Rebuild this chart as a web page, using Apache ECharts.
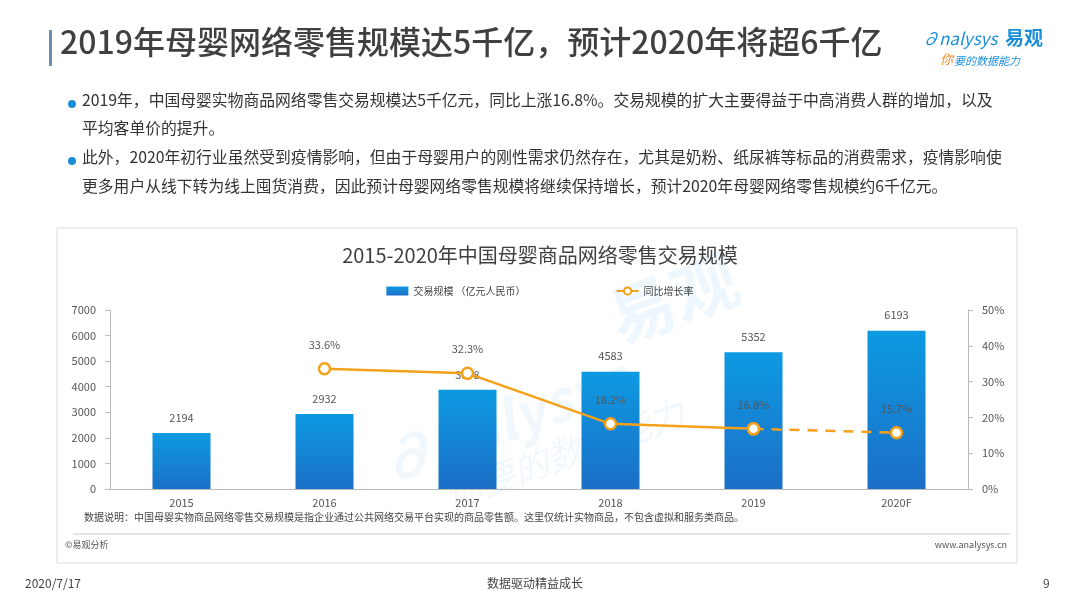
<!DOCTYPE html>
<html><head><meta charset="utf-8">
<script src="https://cdn.jsdelivr.net/npm/echarts@6/dist/echarts.min.js"></script>
<style>html,body{margin:0;padding:0;background:#fff}#c{width:1080px;height:608px}</style>
</head><body><div id="c"></div>
<script>
const categories = ['2015','2016','2017','2018','2019','2020F'];
const scaleValues = [2194, 2932, 3878, 4583, 5352, 6193];
const growthActual = [null, 33.6, 32.3, 18.2, 16.8, null];
const growthForecast = [null, null, null, null, 16.8, 15.7];
const leftTicks = [0, 7000, 1000];
const rightTicks = [0, 50, 10];

const FONT = '"Noto Sans CJK SC", "Noto Sans", sans-serif';
const chart = echarts.init(document.getElementById('c'));

const bullets = [
  '2019年，中国母婴实物商品网络零售交易规模达5千亿元，同比上涨16.8%。交易规模的扩大主要得益于中高消费人群的增加，以及',
  '平均客单价的提升。',
  '此外，2020年初行业虽然受到疫情影响，但由于母婴用户的刚性需求仍然存在，尤其是奶粉、纸尿裤等标品的消费需求，疫情影响使',
  '更多用户从线下转为线上囤货消费，因此预计母婴网络零售规模将继续保持增长，预计2020年母婴网络零售规模约6千亿元。'
];
const bulletY = [103, 131, 160, 189];
const bulletDot = [true, false, true, false];

const graphics = [
  {type:'rect', shape:{x:49, y:30, width:3, height:36}, style:{fill:'#6f8fb0'}},
  {type:'text', left:60, top:26, style:{text:'2019年母婴网络零售规模达5千亿，预计2020年将超6千亿', font:'500 32px '+FONT, fill:'#404040'}},
  {type:'text', left:922, top:30, style:{text:'∂nalysys', font:'italic 17px '+FONT, fill:'#1a8fd8'}},
  {type:'text', left:1005, top:28, style:{text:'易观', font:'bold 19px '+FONT, fill:'#1a8fd8'}},
  {type:'text', left:940, top:53, style:{text:'你', font:'italic 13px '+FONT, fill:'#f08a24'}},
  {type:'text', left:954, top:55, style:{text:'要的数据能力', font:'italic 11px '+FONT, fill:'#1a8fd8'}},
  {type:'rect', shape:{x:57, y:228, width:960, height:335}, style:{fill:'none', stroke:'#dcdcdc', lineWidth:1}},
  {type:'text', left:84, top:512, style:{text:'数据说明：中国母婴实物商品网络零售交易规模是指企业通过公共网络交易平台实现的商品零售额。这里仅统计实物商品，不包含虚拟和服务类商品。', font:'10px '+FONT, fill:'#444'}},
  {type:'line', shape:{x1:73, y1:534, x2:1010, y2:534}, style:{stroke:'#c8c8c8', lineWidth:1}},
  {type:'text', left:65, top:540, style:{text:'©易观分析', font:'9px '+FONT, fill:'#555'}},
  {type:'text', right:73, top:540, style:{text:'www.analysys.cn', font:'9px '+FONT, fill:'#555'}},
  {type:'text', left:25, top:577, style:{text:'2020/7/17', font:'12px '+FONT, fill:'#444'}},
  {type:'text', left:487, top:577, style:{text:'数据驱动精益成长', font:'12px '+FONT, fill:'#444'}},
  {type:'text', left:1043, top:577, style:{text:'9', font:'12px '+FONT, fill:'#444'}},
  {type:'text', x:600, y:290, rotation:0.35, z:0, silent:true, style:{text:'易观', font:'bold 66px '+FONT, fill:'rgba(120,190,240,0.13)'}},
  {type:'text', x:370, y:440, rotation:0.35, z:0, silent:true, style:{text:'∂nalysys', font:'italic bold 56px '+FONT, fill:'rgba(120,190,240,0.10)'}},
  {type:'text', x:440, y:480, rotation:0.35, z:0, silent:true, style:{text:'你要的数据能力', font:'italic 36px '+FONT, fill:'rgba(120,190,240,0.10)'}}
];
bullets.forEach((t,i)=>{
  if (bulletDot[i]) graphics.push({type:'circle', shape:{cx:72, cy:bulletY[i]+1, r:4}, style:{fill:'#1a8fd8'}});
  graphics.push({type:'text', left:82, top:bulletY[i]-11, style:{text:t, font:'15.8px '+FONT, fill:'#333'}});
});

const axisLabelStyle = {color:'#555', fontSize:11, fontFamily:FONT};

chart.setOption({
  animation:false,
  textStyle:{fontFamily:FONT},
  title:{text:'2015-2020年中国母婴商品网络零售交易规模', left:'center', top:240, textStyle:{fontSize:20, fontWeight:'normal', color:'#404040', fontFamily:FONT}},
  legend:{top:281, left:'center', itemGap:90, itemWidth:22, itemHeight:9, textStyle:{fontSize:10, color:'#444', fontFamily:FONT},
    data:[{name:'交易规模 （亿元人民币）', icon:'rect'}, {name:'同比增长率'}]},
  grid:{left:110, right:112, top:310, bottom:119},
  xAxis:{type:'category', data:categories, axisTick:{show:false}, axisLine:{lineStyle:{color:'#bbb'}},
    axisLabel:Object.assign({margin:8}, axisLabelStyle)},
  yAxis:[
    {type:'value', min:leftTicks[0], max:leftTicks[1], interval:leftTicks[2], splitLine:{show:false},
      axisLine:{show:true, lineStyle:{color:'#bbb'}}, axisTick:{show:true, length:5, lineStyle:{color:'#bbb'}},
      axisLabel:Object.assign({margin:14, formatter:v=>String(v)}, axisLabelStyle)},
    {type:'value', min:rightTicks[0], max:rightTicks[1], interval:rightTicks[2], splitLine:{show:false},
      axisLine:{show:true, lineStyle:{color:'#bbb'}}, axisTick:{show:true, length:5, lineStyle:{color:'#bbb'}},
      axisLabel:Object.assign({margin:14, formatter:'{value}%'}, axisLabelStyle)}
  ],
  series:[
    {name:'交易规模 （亿元人民币）', type:'bar', data:scaleValues, barWidth:58, yAxisIndex:0,
      itemStyle:{color:new echarts.graphic.LinearGradient(0,0,0,1,[{offset:0,color:'#0d9ae2'},{offset:1,color:'#1b6fc6'}])},
      label:{show:true, position:'top', distance:10, color:'#555', fontSize:11, fontFamily:FONT}},
    {name:'同比增长率', type:'line', data:growthActual, yAxisIndex:1, z:5,
      lineStyle:{color:'#f5a01a', width:2.5}, itemStyle:{color:'#fff', borderColor:'#f5a01a', borderWidth:2.5},
      symbol:'circle', symbolSize:11, connectNulls:false,
      label:{show:true, position:'top', distance:12, color:'#555', fontSize:11, fontFamily:FONT, formatter:'{c}%'}},
    {name:'同比增长率', type:'line', data:growthForecast, yAxisIndex:1, z:5,
      lineStyle:{color:'#f5a01a', width:2.5, type:[10,8]}, itemStyle:{color:'#fff', borderColor:'#f5a01a', borderWidth:2.5},
      symbol:'circle', symbolSize:11,
      label:{show:true, position:'top', distance:12, color:'#555', fontSize:11, fontFamily:FONT,
        formatter:p=>p.dataIndex===5?p.value+'%':''}}
  ],
  graphic:graphics
});
</script></body></html>
